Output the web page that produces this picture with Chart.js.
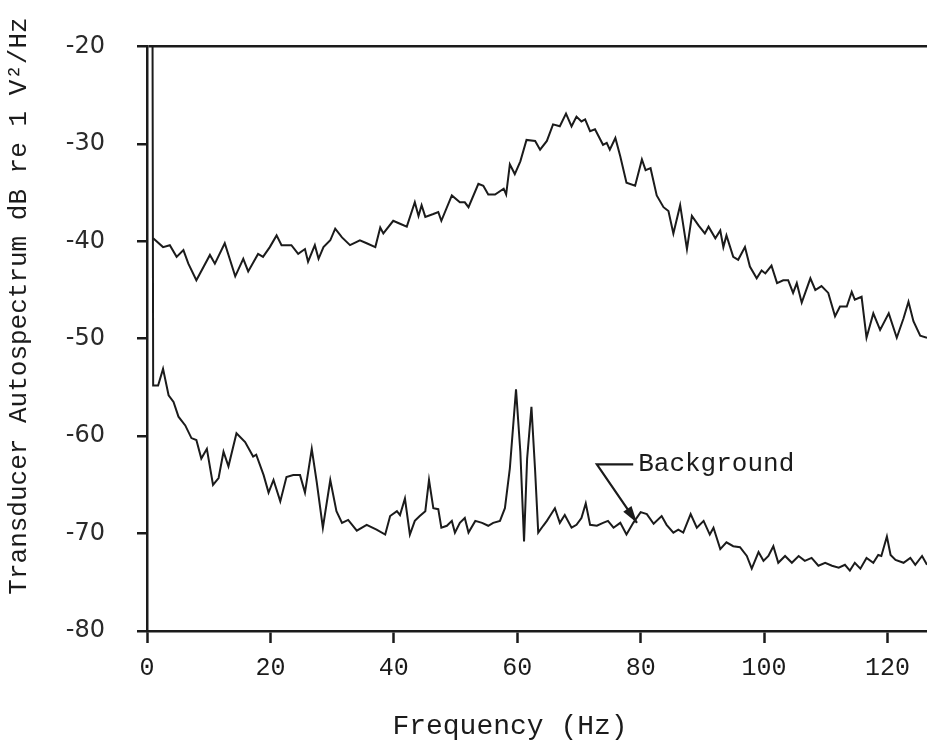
<!DOCTYPE html>
<html><head><meta charset="utf-8">
<script src="https://cdn.jsdelivr.net/npm/chart.js@4.4.1/dist/chart.umd.min.js"></script>
<style>html,body{margin:0;padding:0;background:#fff;}#wrap{width:927px;height:748px;}</style>
</head><body><div id="wrap"><canvas id="c" width="927" height="748"></canvas></div>
<script>
// ---- data (frequency in Hz, level in dB re 1 V^2/Hz) ----
const transducerFreq = [1.0,2.6,3.7,4.8,5.9,6.7,8.0,10.2,11.0,12.6,14.3,15.6,16.4,18.0,18.8,19.9,21.0,21.8,23.4,24.5,25.6,26.1,27.2,27.8,28.6,29.7,30.5,31.6,32.9,34.5,35.6,37.0,37.8,38.3,39.9,41.0,42.1,43.4,44.0,44.5,45.1,46.4,47.2,47.7,49.4,50.7,51.5,52.1,53.7,54.5,55.3,56.4,57.8,58.2,58.8,59.6,60.5,61.5,62.9,63.7,64.8,65.8,66.9,67.9,68.8,69.6,70.4,71.0,71.8,72.6,73.9,74.5,75.0,75.9,76.7,77.7,79.1,80.2,80.8,81.6,82.6,83.7,84.5,85.3,86.4,87.5,88.3,89.4,90.4,91.0,92.1,92.9,93.4,93.9,95.0,95.8,96.9,97.7,98.8,99.6,100.2,101.2,102.1,103.1,103.9,104.7,105.3,106.1,107.5,108.3,109.3,110.4,111.5,112.3,113.4,114.2,114.7,115.8,116.6,117.7,118.8,120.2,121.5,122.6,123.4,124.2,125.3,126.4];
const transducerLevel = [-39.7,-40.6,-40.4,-41.6,-40.9,-42.3,-44.0,-41.4,-42.3,-40.2,-43.6,-41.8,-43.1,-41.3,-41.6,-40.6,-39.4,-40.4,-40.4,-41.3,-40.8,-42.1,-40.4,-41.8,-40.6,-39.9,-38.7,-39.6,-40.4,-39.9,-40.2,-40.6,-38.6,-39.2,-37.9,-38.2,-38.5,-36.0,-37.4,-36.3,-37.5,-37.2,-37.0,-37.9,-35.3,-36.0,-36.0,-36.5,-34.1,-34.3,-35.2,-35.2,-34.6,-35.2,-32.1,-33.1,-31.8,-29.6,-29.7,-30.6,-29.7,-28.0,-28.2,-26.9,-28.2,-27.2,-27.7,-27.5,-28.7,-28.5,-30.1,-29.9,-30.6,-29.4,-31.3,-34.0,-34.3,-31.6,-32.7,-32.5,-35.3,-36.5,-36.9,-39.2,-36.3,-40.8,-37.4,-38.4,-39.2,-38.5,-39.7,-38.9,-40.6,-39.4,-41.6,-41.9,-40.6,-42.6,-43.8,-43.0,-43.3,-42.5,-44.3,-44.0,-44.0,-45.3,-44.3,-46.3,-43.8,-45.0,-44.6,-45.3,-47.7,-46.7,-46.7,-45.2,-46.0,-45.7,-49.9,-47.4,-49.1,-47.4,-49.9,-47.9,-46.2,-48.2,-49.7,-49.9];
const backgroundFreq = [0.9,1.0,1.8,2.6,3.5,4.3,5.1,6.2,7.2,8.0,8.8,9.7,10.7,11.6,12.4,13.2,14.5,15.9,17.2,17.7,18.9,19.7,20.5,21.6,22.6,23.7,24.8,25.6,26.7,27.5,28.5,29.7,30.7,31.6,32.6,34.0,35.6,37.2,38.6,39.4,40.5,41.0,41.8,42.6,43.4,44.2,45.1,45.7,46.4,47.2,47.7,48.6,49.4,49.9,50.7,51.5,52.1,53.2,54.3,55.3,56.1,57.2,58.0,58.8,59.8,60.5,61.1,61.6,62.3,62.9,63.4,64.2,64.8,65.3,66.1,66.9,67.7,68.8,69.6,70.4,71.1,71.8,72.9,73.9,74.7,75.6,76.7,77.7,78.8,80.0,81.0,82.1,83.4,84.2,85.3,86.1,86.9,88.1,89.1,90.2,91.2,91.8,92.9,93.9,95.0,96.1,97.2,98.0,99.1,99.9,100.7,101.5,102.3,103.4,104.5,105.6,106.6,107.7,108.8,109.9,111.0,112.1,113.1,113.9,114.7,115.6,116.6,117.7,118.5,119.0,119.9,120.5,121.3,122.6,123.7,124.5,125.6,126.4];
const backgroundLevel = [-20.0,-54.8,-54.8,-53.1,-55.8,-56.5,-58.0,-58.9,-60.2,-60.4,-62.3,-61.3,-65.0,-64.3,-61.6,-63.1,-59.7,-60.6,-62.1,-61.9,-64.0,-65.8,-64.5,-66.7,-64.2,-64.0,-64.0,-65.8,-61.3,-64.7,-69.4,-64.5,-67.7,-68.9,-68.6,-69.7,-69.1,-69.6,-70.1,-68.2,-67.7,-68.1,-66.4,-70.1,-68.7,-68.2,-67.7,-64.5,-67.4,-67.5,-69.4,-69.2,-68.7,-69.9,-68.9,-68.4,-69.9,-68.7,-68.9,-69.2,-68.9,-68.7,-67.4,-63.3,-55.2,-61.6,-70.8,-62.3,-57.0,-63.6,-69.9,-69.2,-68.7,-68.2,-67.4,-68.9,-68.1,-69.4,-69.1,-68.4,-66.9,-69.1,-69.2,-68.9,-68.7,-69.4,-68.9,-70.1,-68.9,-67.8,-68.0,-69.0,-68.2,-69.1,-69.9,-69.6,-69.9,-68.0,-69.4,-68.7,-70.1,-69.4,-71.6,-70.9,-71.3,-71.4,-72.3,-73.6,-71.9,-72.8,-72.3,-71.3,-73.0,-72.3,-73.0,-72.3,-72.8,-72.5,-73.3,-73.0,-73.3,-73.5,-73.2,-73.8,-73.0,-73.6,-72.5,-73.0,-72.2,-72.3,-70.3,-72.2,-72.7,-73.0,-72.5,-73.2,-72.3,-73.2];
const xTicks = [0, 20, 40, 60, 80, 100, 120];
const yTicks = [-80, -70, -60, -50, -40, -30, -20];
const xTitle = 'Frequency (Hz)';
const yTitle = 'Transducer Autospectrum dB re 1 V\u00B2/Hz';
const bgLabel = 'Background';
const bgLabelAt = [79.6, -62.9];
const bgArrowElbow = [72.9, -62.9];
const bgArrowTip = [79.4, -68.9];

const INK = '#1b1b1b';
const toPts = (xs, ys) => xs.map((x, i) => ({x: x, y: ys[i]}));

const decor = {
  id: 'decor',
  afterDraw(chart) {
    const ctx = chart.ctx, xs = chart.scales.x, ys = chart.scales.y;
    ctx.save();
    ctx.fillStyle = INK; ctx.strokeStyle = INK;
    // y title
    ctx.save();
    ctx.translate(19, 306);
    ctx.rotate(-Math.PI / 2);
    ctx.font = '26px "Liberation Mono", monospace';
    ctx.textAlign = 'center'; ctx.textBaseline = 'middle';
    ctx.fillText(yTitle, 0, 0);
    ctx.restore();
    // x title
    ctx.font = '28px "Liberation Mono", monospace';
    ctx.textAlign = 'center'; ctx.textBaseline = 'middle';
    ctx.fillText(xTitle, 510, 727);
    // Background annotation
    const lx = xs.getPixelForValue(bgLabelAt[0]), ly = ys.getPixelForValue(bgLabelAt[1]);
    const ex = xs.getPixelForValue(bgArrowElbow[0]), ey = ys.getPixelForValue(bgArrowElbow[1]);
    const tx = xs.getPixelForValue(bgArrowTip[0]), ty = ys.getPixelForValue(bgArrowTip[1]);
    ctx.font = '26px "Liberation Mono", monospace';
    ctx.textAlign = 'left'; ctx.textBaseline = 'middle';
    ctx.fillText(bgLabel, lx, ly);
    ctx.lineWidth = 2.2;
    ctx.beginPath();
    ctx.moveTo(lx - 5, ey); ctx.lineTo(ex, ey); ctx.lineTo(tx, ty);
    ctx.stroke();
    const ang = Math.atan2(ty - ey, tx - ex), L = 17, W = 5;
    ctx.beginPath();
    ctx.moveTo(tx, ty);
    ctx.lineTo(tx - L * Math.cos(ang) + W * Math.sin(ang), ty - L * Math.sin(ang) - W * Math.cos(ang));
    ctx.lineTo(tx - L * Math.cos(ang) - W * Math.sin(ang), ty - L * Math.sin(ang) + W * Math.cos(ang));
    ctx.closePath(); ctx.fill();
    ctx.restore();
  }
};

new Chart(document.getElementById('c'), {
  type: 'line',
  data: {
    datasets: [
      {label: 'Transducer', data: toPts(transducerFreq, transducerLevel), borderColor: INK, borderWidth: 2, pointRadius: 0, tension: 0, fill: false},
      {label: 'Background', data: toPts(backgroundFreq, backgroundLevel), borderColor: INK, borderWidth: 2, pointRadius: 0, tension: 0, fill: false}
    ]
  },
  options: {
    responsive: false, animation: false, devicePixelRatio: 1,
    layout: {padding: {left: 47, top: 41, right: 0, bottom: 0}},
    plugins: {legend: {display: false}, tooltip: {enabled: false}},
    scales: {
      x: {
        type: 'linear', min: 0, max: 126.4,
        afterBuildTicks: s => { s.ticks = xTicks.map(v => ({value: v})); },
        afterFit: s => { s.height = 117; },
        ticks: {color: INK, font: {family: '"Liberation Mono", monospace', size: 25}, padding: 10, maxRotation: 0, autoSkip: false},
        grid: {drawOnChartArea: false, drawTicks: true, tickLength: 12, tickColor: INK, tickWidth: 2.5},
        border: {display: true, color: INK, width: 2.5}
      },
      y: {
        type: 'linear', min: -80, max: -20,
        afterBuildTicks: s => { s.ticks = yTicks.map(v => ({value: v})); },
        afterFit: s => { s.width = 100; },
        ticks: {color: '#2a2a2a', font: {family: '"DejaVu Sans", sans-serif', size: 24}, padding: 32},
        grid: {drawOnChartArea: true, color: c => (c.tick && c.tick.value === -20) ? INK : 'rgba(0,0,0,0)', lineWidth: 2.5, tickLength: 10, tickColor: INK, tickWidth: 2.5},
        border: {display: true, color: INK, width: 2.5}
      }
    }
  },
  plugins: [decor]
});
</script></body></html>
